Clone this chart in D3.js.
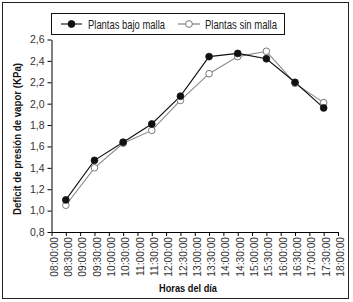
<!DOCTYPE html>
<html>
<head>
<meta charset="utf-8">
<script src="https://cdn.jsdelivr.net/npm/d3@7"></script>
<style>
  html, body { margin: 0; padding: 0; background: #fff; }
  svg { display: block; }
</style>
</head>
<body>
<svg id="chart" width="353" height="302"></svg>
<script>
// ---- Data ----
const hours = ["08:00:00","08:30:00","09:00:00","09:30:00","10:00:00","10:30:00","11:00:00","11:30:00",
  "12:00:00","12:30:00","13:00:00","13:30:00","14:00:00","14:30:00","15:00:00","15:30:00",
  "16:00:00","16:30:00","17:00:00","17:30:00","18:00:00"];
const pointHours = ["08:30:00","09:30:00","10:30:00","11:30:00","12:30:00","13:30:00","14:30:00","15:30:00","16:30:00","17:30:00"];
const bajoMalla = [1.10, 1.47, 1.64, 1.81, 2.07, 2.44, 2.47, 2.42, 2.20, 1.96];
const sinMalla  = [1.05, 1.40, 1.63, 1.75, 2.03, 2.28, 2.44, 2.49, 2.19, 2.01];
const yTicks = [0.8, 1.0, 1.2, 1.4, 1.6, 1.8, 2.0, 2.2, 2.4, 2.6];
const seriesNames = ["Plantas bajo malla", "Plantas sin malla"];
const xTitle = "Horas del día";
const yTitle = "Deficit de presión de vapor (KPa)";

// ---- Layout ----
const svg = d3.select("#chart");
const mLeft = 51.5, mRight = 338, mTop = 39.5, mBottom = 232;
const regular = "'Liberation Sans',Arial,sans-serif";

// outer frame
svg.append("rect").attr("x", 2.5).attr("y", 2.5).attr("width", 346).attr("height", 296)
  .attr("fill", "none").attr("stroke", "#222").attr("stroke-width", 1);

const x = d3.scalePoint().domain(hours).range([mLeft, mRight]).padding(0);
const y = d3.scaleLinear().domain([0.8, 2.6]).range([mBottom, mTop]);

// axes
const yAxis = svg.append("g").attr("transform", `translate(${mLeft},0)`)
  .call(d3.axisLeft(y).tickValues(yTicks).tickSize(4).tickSizeOuter(0)
    .tickFormat(d => d3.format(".1f")(d).replace(".", ",")));
yAxis.selectAll("path, line").attr("stroke", "#000");
yAxis.selectAll("text").attr("font-family", regular).attr("font-size", 10.5)
  .attr("fill", "#333").attr("x", -7);

const xAxis = svg.append("g").attr("transform", `translate(0,${mBottom})`)
  .call(d3.axisBottom(x).tickSize(4).tickSizeOuter(0));
xAxis.selectAll("path, line").attr("stroke", "#000");
xAxis.selectAll("text")
  .attr("font-family", regular).attr("font-size", 10.2).attr("fill", "#333")
  .attr("text-anchor", "end")
  .attr("transform", "rotate(-90)")
  .attr("x", -5).attr("y", 2).attr("dy", "0.35em");

// lines
const line = d3.line().x((d, i) => x(pointHours[i])).y(d => y(d));
svg.append("path").datum(sinMalla).attr("d", line)
  .attr("fill", "none").attr("stroke", "#8a8a8a").attr("stroke-width", 1.1);
svg.append("path").datum(bajoMalla).attr("d", line)
  .attr("fill", "none").attr("stroke", "#111").attr("stroke-width", 1.1);

svg.append("g").selectAll("circle").data(sinMalla).join("circle")
  .attr("cx", (d, i) => x(pointHours[i])).attr("cy", d => y(d)).attr("r", 3.3)
  .attr("fill", "#fff").attr("stroke", "#777").attr("stroke-width", 1);
svg.append("g").selectAll("circle").data(bajoMalla).join("circle")
  .attr("cx", (d, i) => x(pointHours[i])).attr("cy", d => y(d)).attr("r", 3.4)
  .attr("fill", "#111").attr("stroke", "#111").attr("stroke-width", 0.8);

// legend
const lg = svg.append("g");
lg.append("rect").attr("x", 51.5).attr("y", 13.5).attr("width", 233).attr("height", 21)
  .attr("fill", "#fff").attr("stroke", "#111").attr("stroke-width", 1);
const legendItems = [
  { name: seriesNames[0], x0: 61, x1: 82, fill: "#111", stroke: "#111", tx: 88, w: 77 },
  { name: seriesNames[1], x0: 178, x1: 200, fill: "#fff", stroke: "#777", tx: 205, w: 72 }
];
legendItems.forEach(it => {
  lg.append("line").attr("x1", it.x0).attr("x2", it.x1).attr("y1", 24).attr("y2", 24)
    .attr("stroke", it.stroke).attr("stroke-width", 1.1);
  lg.append("circle").attr("cx", (it.x0 + it.x1) / 2).attr("cy", 24).attr("r", 3.4)
    .attr("fill", it.fill).attr("stroke", it.stroke);
  lg.append("text").attr("x", it.tx).attr("y", 28.5).text(it.name)
    .attr("font-family", regular).attr("font-size", 12.2).attr("fill", "#222")
    .attr("textLength", it.w).attr("lengthAdjust", "spacingAndGlyphs");
});

// titles
svg.append("text").attr("x", 159).attr("y", 292)
  .attr("font-family", regular).attr("font-weight", "bold").attr("font-size", 11.5)
  .attr("fill", "#111").attr("textLength", 58).attr("lengthAdjust", "spacingAndGlyphs")
  .text(xTitle);
svg.append("text").attr("transform", "translate(21,215) rotate(-90)")
  .attr("font-family", regular).attr("font-weight", "bold").attr("font-size", 11.5)
  .attr("fill", "#111").attr("textLength", 152).attr("lengthAdjust", "spacingAndGlyphs")
  .text(yTitle);
</script>
</body>
</html>
